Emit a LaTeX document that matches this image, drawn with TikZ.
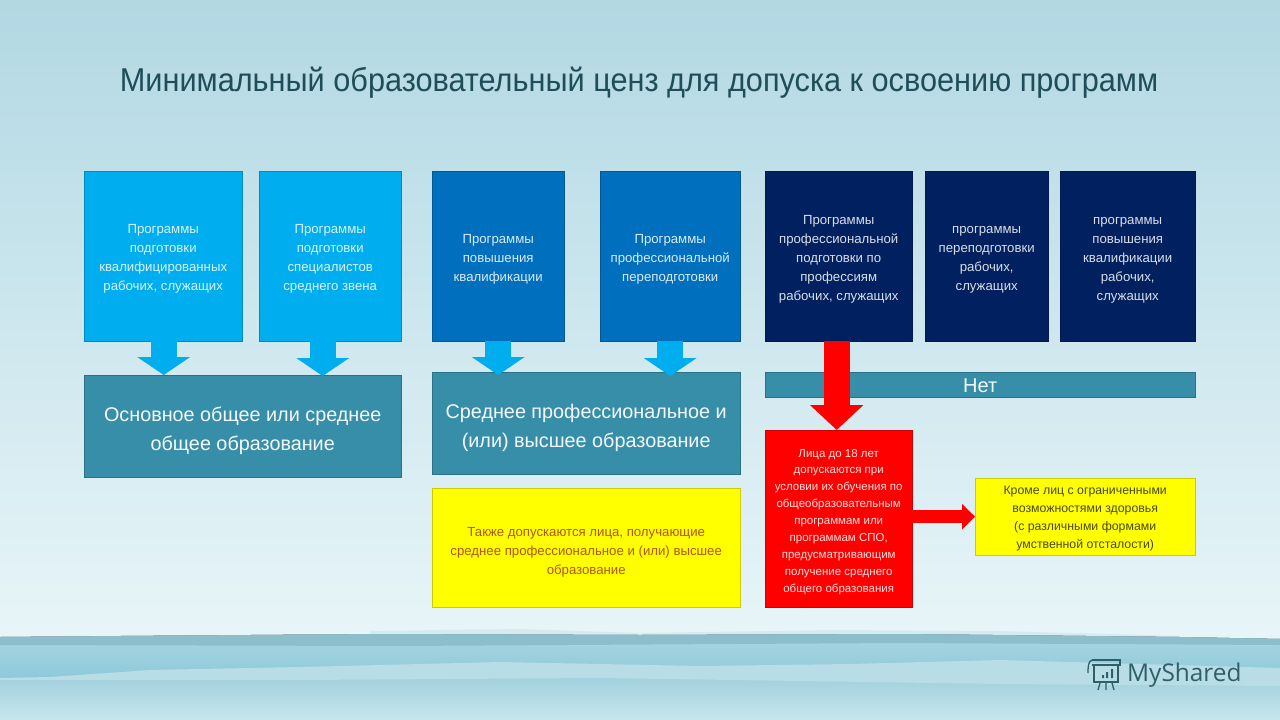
\documentclass[tikz,border=0pt]{standalone}
\usepackage{fontspec}
\setmainfont{Liberation Sans}
\newfontfamily\logofont{Open Sans}
\usetikzlibrary{arrows.meta}
\definecolor{cLight}{HTML}{00ADEE}
\definecolor{cMid}{HTML}{0070BE}
\definecolor{cDark}{HTML}{002060}
\definecolor{cTeal}{HTML}{378EA8}
\definecolor{cTitle}{HTML}{1F4E5A}
\definecolor{cRedText}{HTML}{B4540A}
\definecolor{cOlive}{HTML}{4A4A12}
\definecolor{cLogo}{HTML}{2F5F68}
\definecolor{cYellow}{RGB}{255,255,0}
\definecolor{cRed}{RGB}{255,0,0}
\definecolor{bgA}{RGB}{178,216,227}
\definecolor{bgB}{RGB}{205,231,238}
\definecolor{bgC}{RGB}{232,245,248}
\definecolor{seaBand}{RGB}{140,190,204}
\definecolor{seaA}{RGB}{168,214,226}
\definecolor{seaB}{RGB}{140,200,216}
\definecolor{seaLight}{RGB}{184,221,230}
\definecolor{seaC}{RGB}{160,208,221}
\definecolor{seaD}{RGB}{200,230,236}
\newcommand{\fsz}[2]{\fontsize{#1}{#2}\selectfont}
\newcommand{\dn}[1]{\rule{0pt}{#1pt}}
\tikzset{
  x=1pt,y=-1pt,
  bx/.style={anchor=north west,inner sep=0pt,outer sep=0pt,align=center,draw=#1!80!black,line width=0.6pt,fill=#1},
  prog/.style={text=white!85!#1,font=\fsz{13.2}{19}},
  big/.style={text=white!95!cTeal,font=\fsz{19.8}{29}},
  arr/.style={line width=26pt,#1,-{Triangle[length=18pt,width=52pt]}},
}
\begin{document}
\begin{tikzpicture}
\useasboundingbox (0,0) rectangle (1280,720);
% background
\fill[top color=bgA,bottom color=bgB] (0,0) rectangle (1280,320);
\fill[top color=bgB,bottom color=bgC] (0,320) rectangle (1280,640);
% sea
\fill[bgB!70!bgC] (370,631) -- (520,629) -- (640,633) -- (830,630) -- (1000,631) -- (1180,636) -- (370,636) -- cycle;
\fill[top color=seaA,bottom color=seaB]
  (0,637) -- (120,636) -- (380,634) -- (640,635) -- (900,634) -- (1180,637) -- (1280,639) -- (1280,682) -- (0,682) -- cycle;
\fill[seaBand]
  (0,637) -- (120,636) -- (380,634) -- (640,635) -- (900,634) -- (1180,637) -- (1280,639) -- (1280,645) -- (900,643) -- (400,646) -- (0,645) -- cycle;
\fill[top color=seaC,bottom color=seaD]
  (0,678) -- (300,678) -- (600,676) -- (1000,682) -- (1280,684) -- (1280,720) -- (0,720) -- cycle;
\fill[seaLight]
  (0,678) -- (50,677) -- (150,670) -- (300,667) -- (500,662) -- (700,666) -- (850,664) -- (1000,660) -- (1280,668) -- (1280,686) -- (1000,684) -- (600,678) -- (300,680) -- (0,680) -- cycle;
% title
\node[text=cTitle,font=\fsz{33}{38},inner sep=0pt] (title) at (639,83) {\addfontfeature{FakeStretch=0.93}Минимальный образовательный ценз для допуска к освоению программ};
% top boxes
\node[bx=cLight,prog=cLight,minimum width=158.4pt,minimum height=170.4pt] (p1) at (84,171) {\dn{14.5}Программы\\подготовки\\квалифицированных\\рабочих, служащих};
\node[bx=cLight,prog=cLight,minimum width=142.4pt,minimum height=170.4pt] (p2) at (259,171) {\dn{14.5}Программы\\подготовки\\специалистов\\среднего звена};
\node[bx=cMid,prog=cMid,minimum width=132.4pt,minimum height=170.4pt] (p3) at (432,171) {\dn{14.5}Программы\\повышения\\квалификации};
\node[bx=cMid,prog=cMid,minimum width=140.4pt,minimum height=170.4pt] (p4) at (600,171) {\dn{14.5}Программы\\профессиональной\\переподготовки};
\node[bx=cDark,prog=cDark,minimum width=147.4pt,minimum height=170.4pt] (p5) at (765,171) {\dn{14.5}Программы\\профессиональной\\подготовки по\\профессиям\\рабочих, служащих};
\node[bx=cDark,prog=cDark,minimum width=123.4pt,minimum height=170.4pt] (p6) at (925,171) {\dn{14.5}программы\\переподготовки\\рабочих,\\служащих};
\node[bx=cDark,prog=cDark,minimum width=135.4pt,minimum height=170.4pt] (p7) at (1060,171) {\dn{14.5}программы\\повышения\\квалификации\\рабочих,\\служащих};
% second row
\node[bx=cTeal,big,minimum width=317.4pt,minimum height=102.4pt] (e1) at (84,375) {\dn{24}Основное общее или среднее\\общее образование};
\node[bx=cTeal,big,minimum width=308.4pt,minimum height=102.4pt] (e2) at (432,372) {\dn{24}Среднее профессиональное и\\(или) высшее образование};
\node[bx=cTeal,text=white!95!cTeal,font=\fsz{20}{24},minimum width=430.4pt,minimum height=25.4pt] (no) at (765,372) {\dn{16.5}Нет};
\node[bx=cYellow,text=cRedText,font=\fsz{13.2}{19},minimum width=308.4pt,minimum height=119.4pt] (y1) at (432,488) {\dn{17.5}Также допускаются лица, получающие\\среднее профессиональное и (или) высшее\\образование};
\node[bx=cRed,text=white!88!cRed,font=\fsz{11.5}{16.9},minimum width=147.4pt,minimum height=177.4pt] (r1) at (765,430) {\dn{14.3}Лица до 18 лет\\допускаются при\\условии их обучения по\\общеобразовательным\\программам или\\программам СПО,\\предусматривающим\\получение среднего\\общего образования};
\node[bx=cYellow,text=cOlive,font=\fsz{12.3}{18},minimum width=220.4pt,minimum height=77.4pt] (y2) at (975,478) {\dn{13}Кроме лиц с ограниченными\\возможностями здоровья\\(с различными формами\\умственной отсталости)};
% arrows
\draw[arr=cLight] ([xshift=0.5pt]p1.south) -- ([xshift=0.5pt]p1.south |- e1.north);
\draw[arr=cLight] ([xshift=-7.5pt]p2.south) -- ([xshift=-7.5pt,yshift=-1pt]p2.south |- e1.north);
\draw[arr=cLight] (p3.south) -- ([yshift=-3pt]p3.south |- e2.north);
\draw[arr=cLight] (p4.south) -- ([yshift=-4pt]p4.south |- e2.north);
\draw[line width=26pt,cRed,-{Triangle[length=25pt,width=52pt]}] ([xshift=-2pt]p5.south) -- ([xshift=-2pt]p5.south |- r1.north);
\draw[cRed,line width=13pt,-{Triangle[length=13pt,width=25pt]}] (r1.east |- y2.west) -- (y2.west);
% logo
\begin{scope}[cLogo,line width=1.3pt]
\draw (1092,660) -- (1120,660) -- (1120,665) -- (1092,665);
\draw (1092,660) .. controls (1088,661) and (1088,668) .. (1088,673);
\draw (1094,665) -- (1094,682) -- (1118,682) -- (1118,665);
\fill (1102,675) rectangle (1104,678) (1106,672) rectangle (1108,678) (1111,669) rectangle (1113,678);
\draw (1100,683) -- (1098,690) (1106,683) -- (1106,690) (1112,683) -- (1114,690);
\end{scope}
\node[text=cLogo,font=\logofont\fsz{24.4}{30},inner sep=0pt,anchor=west] (logo) at (1127,675) {MyShared};
\end{tikzpicture}
\end{document}
